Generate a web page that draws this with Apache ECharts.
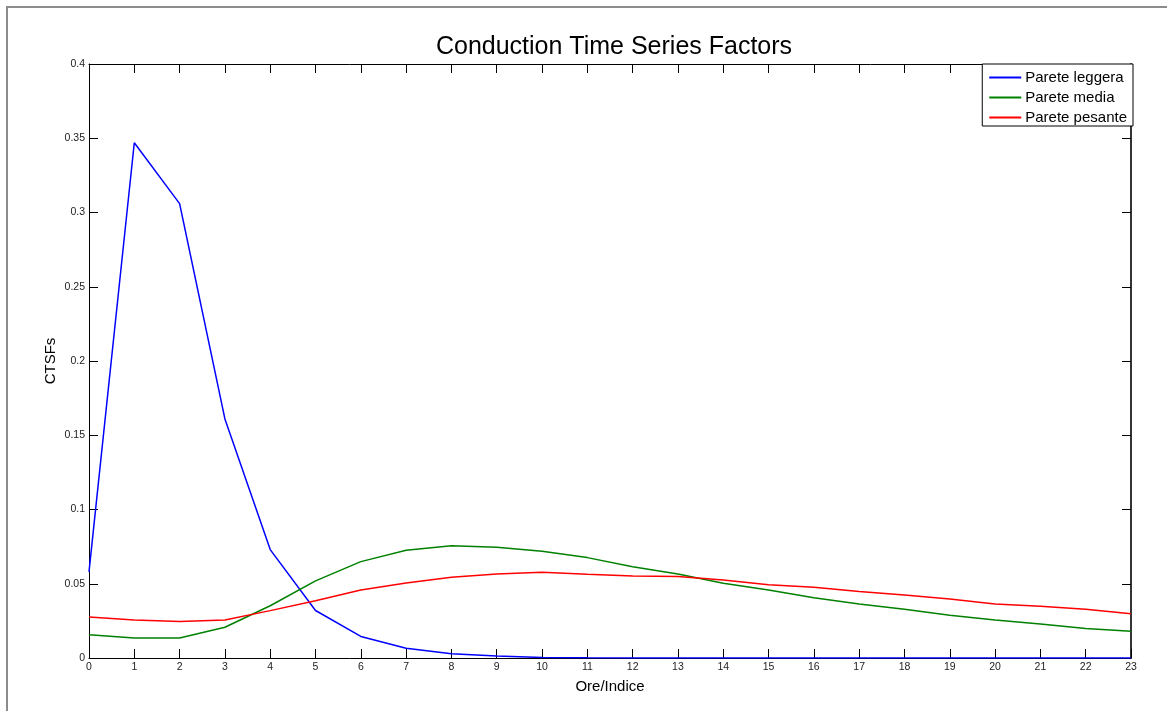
<!DOCTYPE html>
<html>
<head>
<meta charset="utf-8">
<script src="https://cdn.jsdelivr.net/npm/echarts@6/dist/echarts.min.js"></script>
<style>
  html, body { margin: 0; padding: 0; background: #fff; }
  #chart { width: 1167px; height: 711px; }
</style>
</head>
<body>
<div id="chart"></div>
<script>
/* -------------------------------------------------------------------------- */
/*                      Conduction Time Series Factors                         */
/* -------------------------------------------------------------------------- */

const hours = [
  '0', '1', '2', '3', '4', '5', '6', '7', '8', '9', '10', '11',
  '12', '13', '14', '15', '16', '17', '18', '19', '20', '21', '22', '23'
];

const pareteLeggera = [
  0.058, 0.347, 0.306, 0.161, 0.073, 0.032, 0.0145, 0.0065, 0.0028, 0.0013, 0.0004, 0.0001,
  0, 0, 0, 0, 0, 0, 0, 0, 0, 0, 0, 0
];

const pareteMedia = [
  0.0157, 0.0135, 0.0135, 0.0207, 0.0352, 0.0519, 0.0649, 0.0725, 0.0756, 0.0745, 0.0719, 0.0676,
  0.0615, 0.0566, 0.0503, 0.0458, 0.0406, 0.0364, 0.0328, 0.0288, 0.0256, 0.0229, 0.0198, 0.018
];

const paretePesante = [
  0.0276, 0.0256, 0.0245, 0.0256, 0.0319, 0.0386, 0.0458, 0.0505, 0.0543, 0.0566, 0.0577, 0.0564,
  0.0552, 0.0548, 0.0525, 0.0494, 0.0476, 0.0447, 0.0424, 0.0397, 0.0364, 0.0348, 0.0328, 0.0298
];

const font = 'Liberation Sans, Arial, sans-serif';
const $chart = document.getElementById('chart');
const chart = echarts.init($chart);

const tickInside = { show: true, inside: true, length: 9, lineStyle: { color: '#000' } };

const lineSeries = (name, data, color) => ({
  name,
  type: 'line',
  data,
  symbol: 'none',
  lineStyle: { color, width: 1.5 },
  itemStyle: { color },
  xAxisIndex: 0,
  yAxisIndex: 0
});

chart.setOption({
  animation: false,
  backgroundColor: '#fff',
  textStyle: { fontFamily: font },
  title: {
    text: 'Conduction Time Series Factors',
    left: 609,
    textAlign: 'center',
    top: 30,
    textStyle: { fontFamily: font, fontSize: 25, fontWeight: 'normal', color: '#000' }
  },
  legend: {
    orient: 'vertical',
    right: 34,
    top: 64,
    icon: 'rect',
    itemWidth: 32,
    itemHeight: 2,
    itemGap: 5,
    padding: [6, 6, 1, 7],
    borderColor: '#000',
    borderWidth: 1,
    borderRadius: 0,
    backgroundColor: '#fff',
    textStyle: { fontFamily: font, fontSize: 15, color: '#000', padding: [0, 0, 0, -1] },
    data: ['Parete leggera', 'Parete media', 'Parete pesante']
  },
  grid: { left: 89, right: 36, top: 64, bottom: 53, containLabel: false },
  graphic: [
    {
      type: 'rect',
      shape: { x: 7, y: 7, width: 1200, height: 750 },
      style: { fill: 'none', stroke: '#8c8c8c', lineWidth: 2 },
      silent: true
    }
  ],
  xAxis: [
    {
      type: 'category',
      data: hours,
      boundaryGap: false,
      position: 'bottom',
      name: 'Ore/Indice',
      nameLocation: 'middle',
      nameGap: 21,
      nameTextStyle: { fontFamily: font, fontSize: 15, color: '#000' },
      axisLine: { show: true, onZero: false, lineStyle: { color: '#000', width: 1 } },
      axisTick: { ...tickInside, interval: 0 },
      axisLabel: { interval: 0, margin: 4, fontSize: 10.5, color: '#222', fontFamily: font },
      splitLine: { show: false }
    },
    {
      type: 'category',
      data: hours,
      boundaryGap: false,
      position: 'top',
      axisLine: { show: true, onZero: false, lineStyle: { color: '#000', width: 1 } },
      axisTick: { ...tickInside, interval: 0 },
      axisLabel: { show: false },
      splitLine: { show: false }
    }
  ],
  yAxis: [
    {
      type: 'value',
      min: 0,
      max: 0.4,
      interval: 0.05,
      position: 'left',
      name: 'CTSFs',
      nameLocation: 'middle',
      nameGap: 31,
      nameMoveOverlap: false,
      nameTextStyle: { fontFamily: font, fontSize: 15, color: '#000' },
      axisLine: { show: true, lineStyle: { color: '#000', width: 1 } },
      axisTick: tickInside,
      axisLabel: { margin: 4, fontSize: 10.5, color: '#222', fontFamily: font },
      splitLine: { show: false }
    },
    {
      type: 'value',
      min: 0,
      max: 0.4,
      interval: 0.05,
      position: 'right',
      axisLine: { show: true, lineStyle: { color: '#333', width: 2 } },
      axisTick: tickInside,
      axisLabel: { show: false },
      splitLine: { show: false }
    }
  ],
  series: [
    lineSeries('Parete leggera', pareteLeggera, '#0000ff'),
    lineSeries('Parete media', pareteMedia, '#008000'),
    lineSeries('Parete pesante', paretePesante, '#ff0000')
  ]
});
</script>
</body>
</html>
